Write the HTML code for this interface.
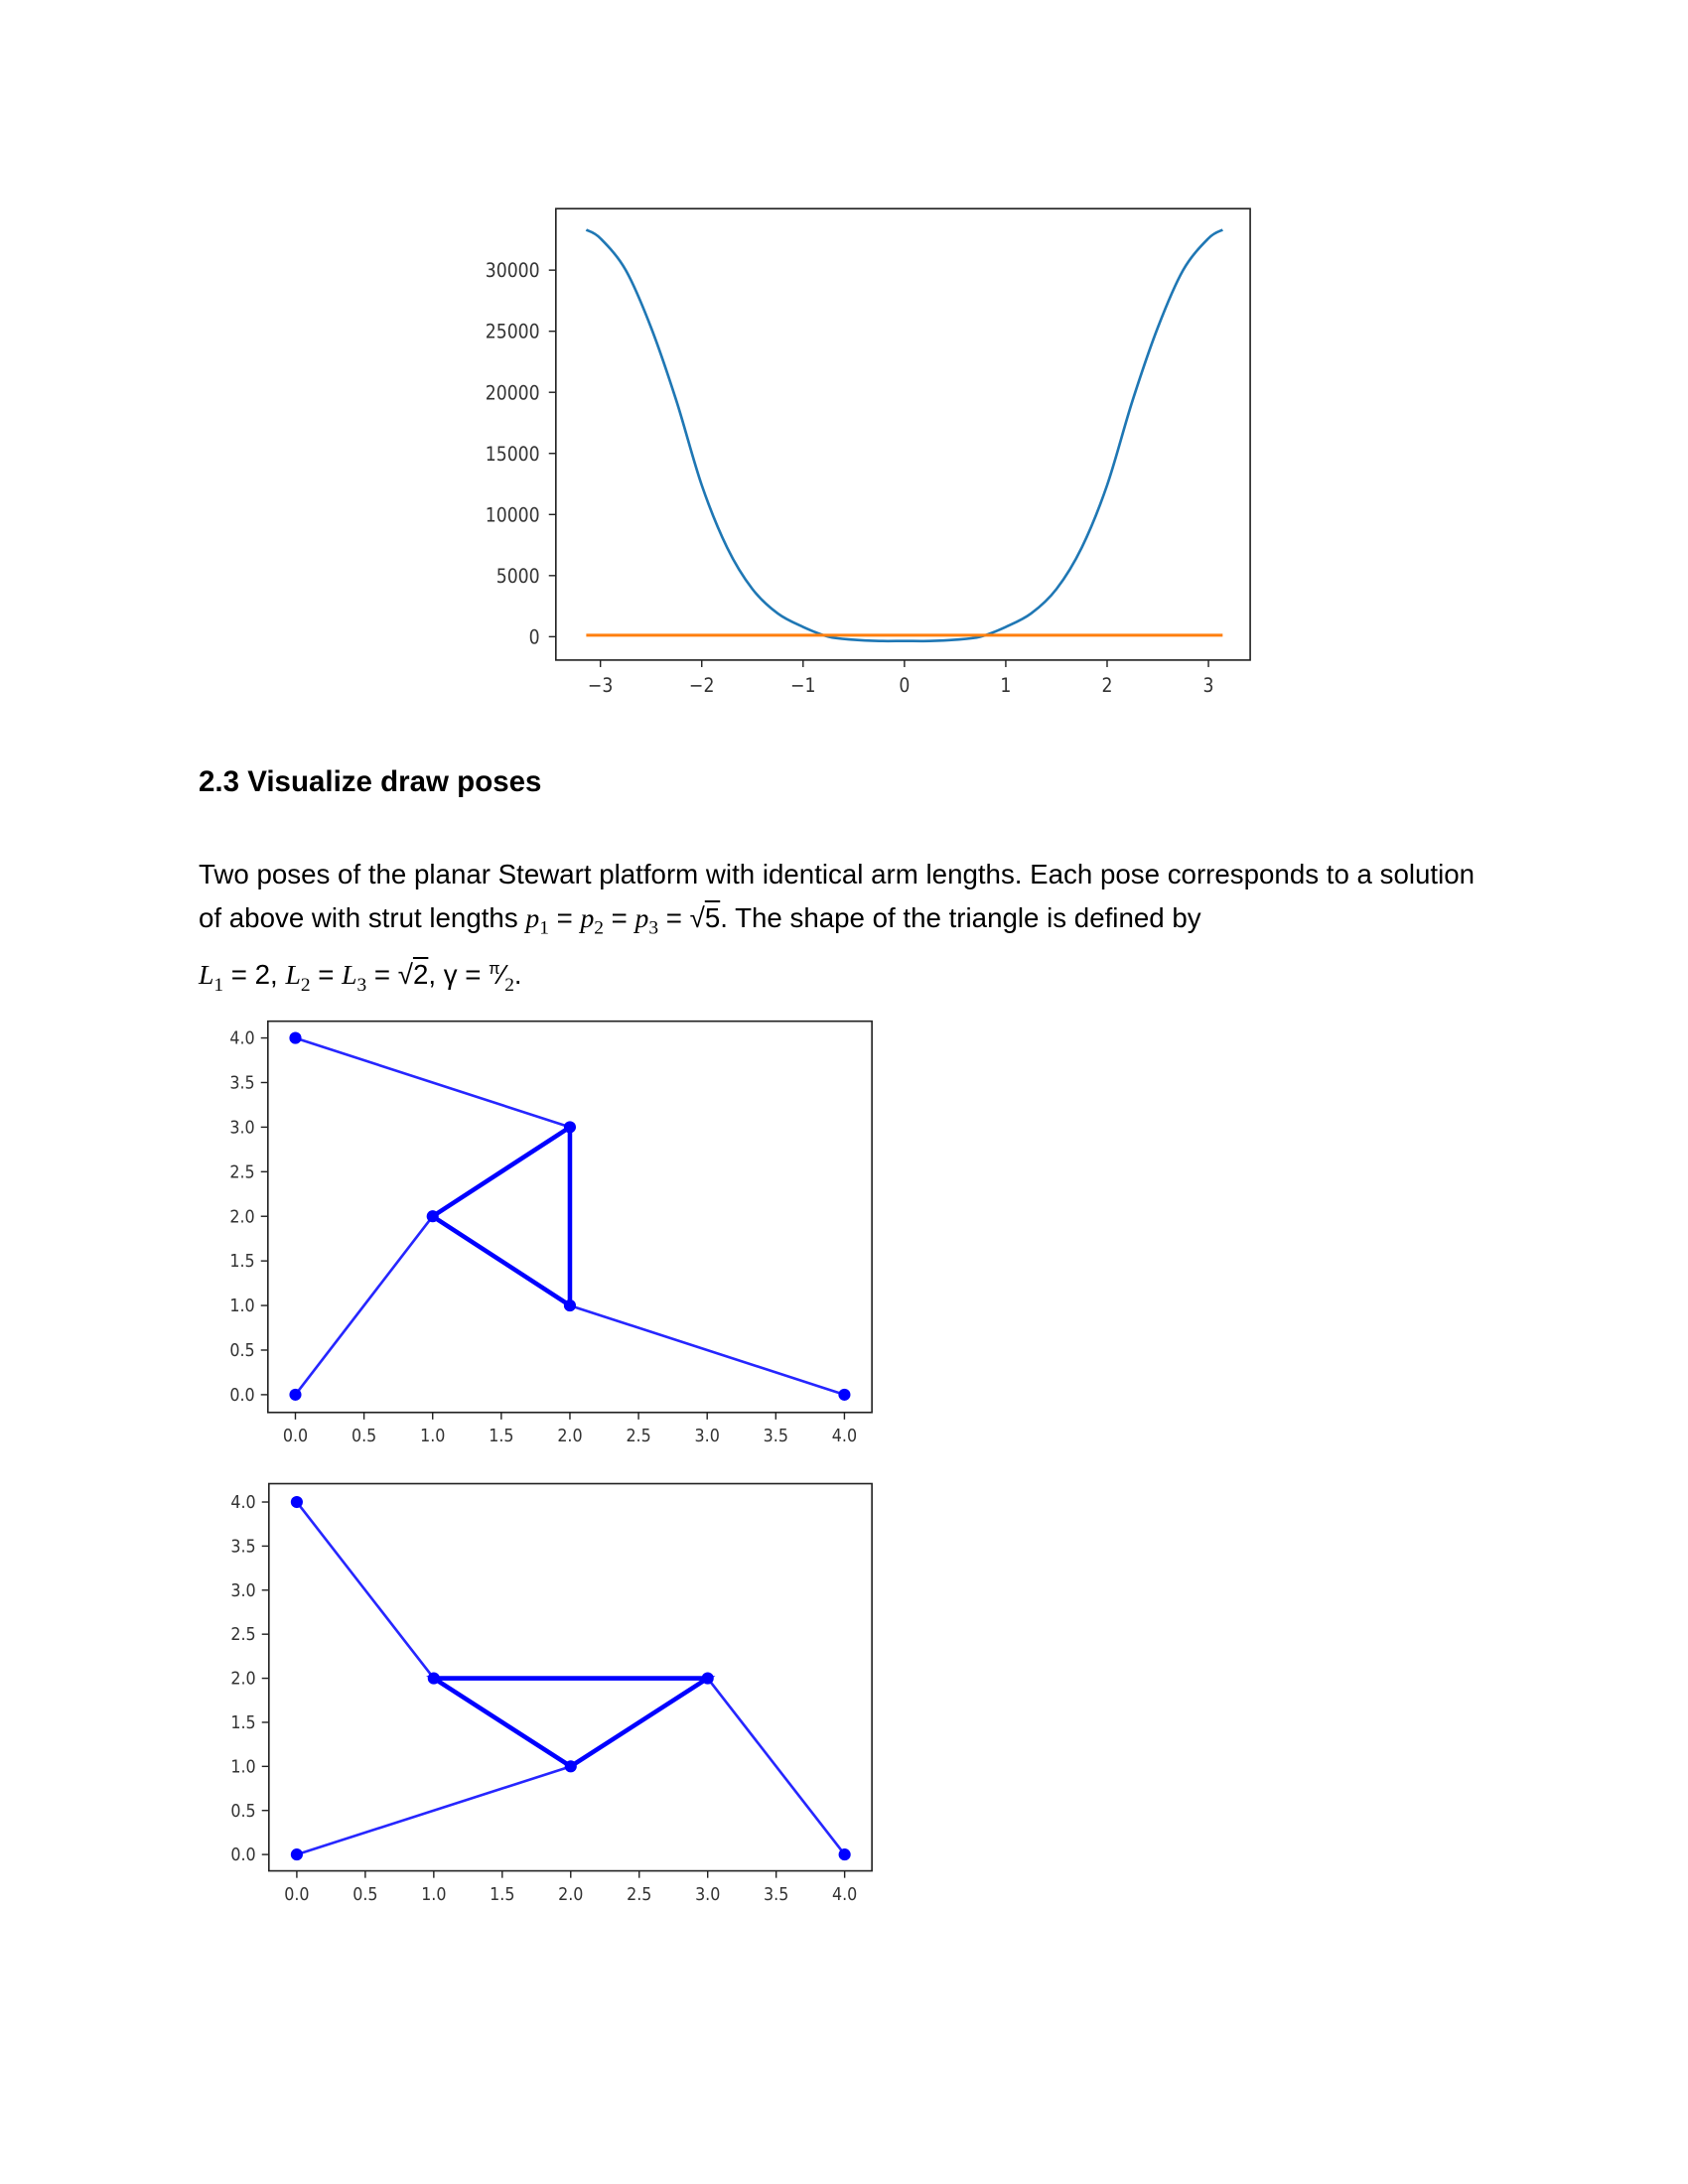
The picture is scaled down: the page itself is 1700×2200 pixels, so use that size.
<!DOCTYPE html>
<html><head><meta charset="utf-8"><style>
html,body{margin:0;padding:0;background:#fff;width:1700px;height:2200px;overflow:hidden}
.t{position:absolute;font-family:"Liberation Sans",Arial,sans-serif;color:#000;white-space:nowrap}
.m{font-family:"Liberation Serif",serif;font-style:italic}
sub{font-size:0.7em;font-family:"Liberation Serif",serif;font-style:normal}
svg text{font-family:"DejaVu Sans Condensed","DejaVu Sans",sans-serif;fill:#333}
</style></head><body>
<svg width="1700" height="2200" style="position:absolute;left:0;top:0"><g id="s" transform="scale(1.0105)"></g></svg>
<div class="t" style="left:200px;top:771px;font-size:29.5px;font-weight:bold">2.3 Visualize draw poses</div>
<div class="t" style="left:200px;top:865px;font-size:27.7px">Two poses of the planar Stewart platform with identical arm lengths. Each pose corresponds to a solution</div>
<div class="t" style="left:200px;top:909px;font-size:27.7px">of above with strut lengths <span class="m">p</span><sub>1</sub> = <span class="m">p</span><sub>2</sub> = <span class="m">p</span><sub>3</sub> = √<span style="text-decoration:overline">5</span>. The shape of the triangle is defined by</div>
<div class="t" style="left:200px;top:966px;font-size:27.7px"><span class="m">L</span><sub>1</sub> = 2, <span class="m">L</span><sub>2</sub> = <span class="m">L</span><sub>3</sub> = √<span style="text-decoration:overline">2</span>, γ = <sup style="font-size:0.6em">π</sup>⁄<sub>2</sub>.</div>
<script>
// Chart 1 data
const curveX = [-3.14,-3.0,-2.75,-2.5,-2.25,-2.0,-1.75,-1.5,-1.25,-1.0,-0.75,-0.5,-0.25,0,0.25,0.5,0.75,1.0,1.25,1.5,1.75,2.0,2.25,2.5,2.75,3.0,3.14];
const curveY = [33300,32600,30000,25300,19300,12400,7300,3900,1900,800,0,-250,-350,-350,-350,-250,0,800,1900,3900,7300,12400,19300,25300,30000,32600,33300];
const flatX = [-3.14,3.14];
const flatY = [120,120];
const xTicks1 = [-3,-2,-1,0,1,2,3];
const xTickLabels1 = ["\u22123","\u22122","\u22121","0","1","2","3"];
const yTicks1 = [0,5000,10000,15000,20000,25000,30000];
// Pose data
const pose1Arms = [[[0,0],[1,2]],[[4,0],[2,1]],[[0,4],[2,3]]];
const pose1Tri = [[1,2],[2,3],[2,1]];
const pose2Arms = [[[0,0],[2,1]],[[4,0],[3,2]],[[0,4],[1,2]]];
const pose2Tri = [[1,2],[3,2],[2,1]];
const poseTicks = [0,0.5,1,1.5,2,2.5,3,3.5,4];

const NS="http://www.w3.org/2000/svg";
const svg=document.getElementById('s');
function mk(tag,attrs,parent){const e=document.createElementNS(NS,tag);for(const k in attrs)e.setAttribute(k,attrs[k]);(parent||svg).appendChild(e);return e;}
function smooth(pts){
  let d='M'+pts[0][0]+','+pts[0][1];
  for(let i=0;i<pts.length-1;i++){
    const p0=pts[Math.max(0,i-1)],p1=pts[i],p2=pts[i+1],p3=pts[Math.min(pts.length-1,i+2)];
    const c1=[p1[0]+(p2[0]-p0[0])/6,p1[1]+(p2[1]-p0[1])/6];
    const c2=[p2[0]-(p3[0]-p1[0])/6,p2[1]-(p3[1]-p1[1])/6];
    d+=' C'+c1[0]+','+c1[1]+' '+c2[0]+','+c2[1]+' '+p2[0]+','+p2[1];
  }
  return d;
}

// Chart 1
const sx1=v=>901.4+v*101, sy1=v=>634.7-v*0.01218;
let g1=mk('g',{});


let b1=mk('rect',{x:554,y:208,width:692,height:450,fill:'none',stroke:'#222','stroke-width':1.6},g1);


xTicks1.forEach((v,i)=>{
  let l=mk('line',{x1:sx1(v),x2:sx1(v),y1:658,y2:665,stroke:'#222','stroke-width':1.4},g1);
  
  
  let t=mk('text',{x:sx1(v),y:690,'font-size':19,'text-anchor':'middle'},g1);t.textContent=xTickLabels1[i];
  
  
});
yTicks1.forEach(v=>{
  let l=mk('line',{x1:547,x2:554,y1:sy1(v),y2:sy1(v),stroke:'#222','stroke-width':1.4},g1);
  
  
  let t=mk('text',{x:538,y:sy1(v)+7,'font-size':19,'text-anchor':'end'},g1);t.textContent=String(v);
  
  
});
let p1=mk('path',{d:smooth(curveX.map((x,i)=>[sx1(x),sy1(curveY[i])])),fill:'none',stroke:'#1f77b4','stroke-width':2.6,'stroke-linejoin':'round'},g1);


let p2=mk('polyline',{points:flatX.map((x,i)=>sx1(x)+','+sy1(flatY[i])).join(' '),fill:'none',stroke:'#ff7f0e','stroke-width':3},g1);



// Pose charts
function poseChart(name,box,x0,ux,y0,uy,labY,arms,tri){
  const sx=v=>x0+v*ux, sy=v=>y0-v*uy;
  let g=mk('g',{});
  
  
  let r=mk('rect',{x:box[0],y:box[1],width:box[2],height:box[3],fill:'none',stroke:'#222','stroke-width':1.6},g);
  
  
  poseTicks.forEach(v=>{
    let l=mk('line',{x1:sx(v),x2:sx(v),y1:box[1]+box[3],y2:box[1]+box[3]+7,stroke:'#222','stroke-width':1.4},g);
    
    
    let t=mk('text',{x:sx(v),y:labY,'font-size':17.5,'text-anchor':'middle'},g);t.textContent=v.toFixed(1);
    
    
    let l2=mk('line',{x1:box[0]-7,x2:box[0],y1:sy(v),y2:sy(v),stroke:'#222','stroke-width':1.4},g);
    
    
    let t2=mk('text',{x:box[0]-13,y:sy(v)+6,'font-size':17.5,'text-anchor':'end'},g);t2.textContent=v.toFixed(1);
    
    
  });
  arms.forEach(a=>{
    let l=mk('line',{x1:sx(a[0][0]),y1:sy(a[0][1]),x2:sx(a[1][0]),y2:sy(a[1][1]),stroke:'#0000ff','stroke-width':2.6,'stroke-opacity':0.85},g);
    
    
    a.forEach(p=>{let c=mk('circle',{cx:sx(p[0]),cy:sy(p[1]),r:6,fill:'#0000ff'},g);
      
      });
  });
  let tp=mk('polygon',{points:tri.map(p=>sx(p[0])+','+sy(p[1])).join(' '),fill:'none',stroke:'#0000ff','stroke-width':4.5},g);
  
  
}
poseChart('pose-1-chart',[267,1018,602,390],294.4,136.8,1390.3,88.9,1437,pose1Arms,pose1Tri);
poseChart('pose-2-chart',[268,1479,601,386],295.8,136.5,1848.7,87.85,1894,pose2Arms,pose2Tri);
</script>
</body></html>
